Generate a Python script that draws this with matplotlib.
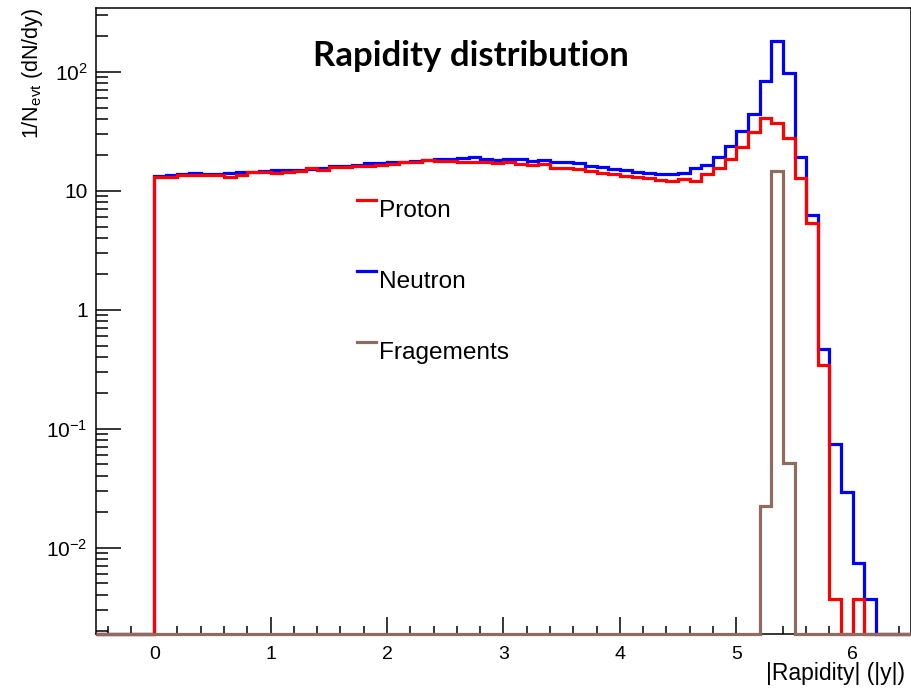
import numpy as np
import matplotlib
matplotlib.use("Agg")
import matplotlib.pyplot as plt
from matplotlib.legend_handler import HandlerLine2D
from matplotlib.lines import Line2D
from matplotlib.ticker import FixedLocator, FixedFormatter, LogLocator, MultipleLocator, NullFormatter

plt.rcParams['font.family'] = ['Liberation Sans', 'DejaVu Sans']
plt.rcParams['mathtext.fontset'] = 'custom'
plt.rcParams['mathtext.rm'] = 'Liberation Sans'
plt.rcParams['mathtext.it'] = 'Liberation Sans:italic'
plt.rcParams['mathtext.bf'] = 'Liberation Sans:bold'

# histogram range -0.5 .. 6.5, bin width 0.1
edges = np.round(np.linspace(-0.5, 6.5, 71), 2)
empty_left = [0.0] * 5  # bins -0.5 .. 0

# bins 0.0 .. 6.4
proton = [13.1, 13.1, 13.5, 13.5, 13.5, 13.5, 13.1, 13.6, 14.5, 14.5,
          14.2, 14.5, 14.7, 15.4, 14.9, 15.7, 15.9, 16.2, 16.3, 16.4,
          16.9, 17.3, 17.6, 18.1, 17.9, 17.8, 17.5, 17.5, 17.3, 17.1,
          17.5, 16.8, 16.4, 16.7, 15.6, 15.4, 15.1, 14.6, 14.0, 13.7,
          13.3, 13.0, 12.7, 12.3, 12.1, 12.5, 12.1, 13.8, 15.6, 18.5,
          23.4, 31.0, 41.1, 37.3, 27.8, 12.7, 5.38, 0.343, 0.0037, 0.0,
          0.0037, 0.0, 0.0, 0.0, 0.0]
neutron = [13.3, 13.5, 13.7, 14.0, 13.7, 13.9, 14.0, 14.3, 14.4, 14.7,
           14.9, 14.8, 14.9, 15.2, 15.4, 16.1, 16.1, 16.4, 17.0, 17.0,
           17.3, 17.5, 17.9, 18.2, 18.35, 18.5, 18.7, 19.3, 18.5, 18.1,
           18.35, 18.5, 17.8, 18.1, 17.5, 17.3, 17.0, 16.1, 15.9, 15.1,
           14.9, 14.45, 14.0, 13.7, 13.8, 14.0, 15.4, 16.4, 19.3, 23.7,
           31.7, 43.9, 84.0, 181.0, 97.0, 19.3, 6.25, 0.465, 0.0739, 0.0296,
           0.0074, 0.0037, 0.0, 0.0, 0.0]
fragments = [0.0] * 52 + [0.0222, 14.7, 0.0518] + [0.0] * 10

labels = ['Proton', 'Neutron', 'Fragements']
colors = {'Proton': '#ff0000', 'Neutron': '#0000ff', 'Fragements': '#8c6d5f'}

ymin, ymax = 0.00188, 347.0


class TopLine(HandlerLine2D):
    # ROOT style legend: line sits level with the top of the text
    def create_artists(self, legend, orig_handle, xdescent, ydescent,
                       width, height, fontsize, trans):
        arts = super().create_artists(legend, orig_handle, xdescent, ydescent,
                                      width, height, fontsize, trans)
        for a in arts:
            a.set_ydata(np.full(len(a.get_ydata()), height * 1.02))
        return arts


fig = plt.figure(figsize=(9.12, 6.89), dpi=100)
ax = fig.add_axes([96 / 912, 1 - 634 / 689, 815 / 912, 626.5 / 689])

series = {'Neutron': neutron, 'Proton': proton, 'Fragements': fragments}
for z, name in enumerate(series):
    vals = np.maximum(np.array(empty_left + series[name]), ymin)
    ax.stairs(vals, edges, baseline=None, color=colors[name], lw=2.3,
              clip_on=False, zorder=3 + z)

ax.set_yscale('log')
ax.set_xlim(-0.5, 6.5)
ax.set_ylim(ymin, ymax)

ax.yaxis.set_major_locator(FixedLocator([1e-2, 1e-1, 1, 10, 100]))
ax.yaxis.set_major_formatter(FixedFormatter([r'$\mathregular{10^{-2}}$', r'$\mathregular{10^{-1}}$',
                                             '1', '10', r'$\mathregular{10^{2}}$']))
ax.yaxis.set_minor_locator(LogLocator(base=10, subs=np.arange(2, 10)))
ax.yaxis.set_minor_formatter(NullFormatter())
ax.xaxis.set_major_locator(MultipleLocator(1))
ax.xaxis.set_minor_locator(MultipleLocator(0.2))

ax.tick_params(axis='both', which='both', direction='in', width=1.1, colors='black')
ax.tick_params(axis='x', which='major', length=12.2, pad=8.5, labelsize=14)
ax.tick_params(axis='x', which='minor', length=6)
ax.tick_params(axis='y', which='major', length=18, pad=6, labelsize=15)
ax.tick_params(axis='y', which='minor', length=8.6)
for s in ax.spines.values():
    s.set_linewidth(1.1)

ax.set_xlabel('|Rapidity| (|y|)', fontsize=16.5, loc='right')
ax.xaxis.set_label_coords(0.9926, -0.045)
ax.set_ylabel(r'1/N$_{\mathregular{evt}}$ (dN/dy)', fontsize=15.5, loc='top')
ax.yaxis.set_label_coords(-0.062, 1.0)

fig.text(471 / 912, 1 - 66 / 689, 'Rapidity distribution', ha='center', va='baseline',
         fontsize=25, fontweight='bold', family=['Lato', 'DejaVu Sans'])

handles = [Line2D([], [], color=colors[n], lw=2.3) for n in labels]
ax.legend(handles, labels, loc='upper left', bbox_to_anchor=(357 / 912, 1 - 200 / 689),
          bbox_transform=fig.transFigure, frameon=False, fontsize=17.6,
          handlelength=0.76, handletextpad=0.12, labelspacing=2.0,
          borderpad=0, borderaxespad=0, handler_map={Line2D: TopLine()})

fig.savefig('out.png', dpi=100)
